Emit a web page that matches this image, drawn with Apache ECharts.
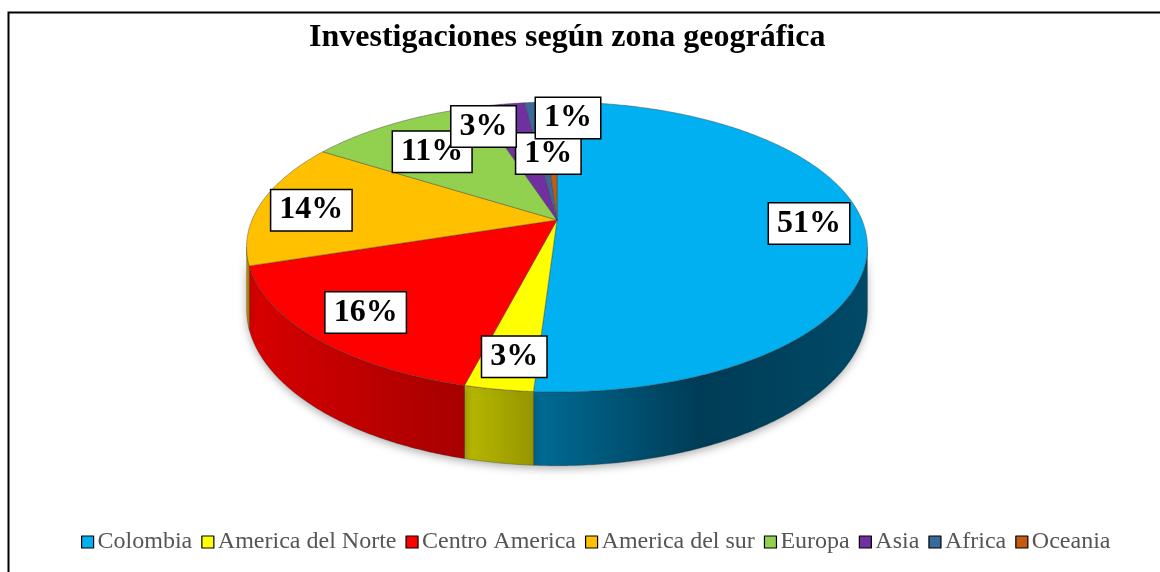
<!DOCTYPE html>
<html>
<head>
<meta charset="utf-8">
<script src="https://cdn.jsdelivr.net/npm/echarts@6/dist/echarts.min.js"></script>
<style>
  html, body { margin: 0; padding: 0; background: #fff; }
  #chart { width: 1160px; height: 572px; }
</style>
</head>
<body>
<div id="chart"></div>
<script>
// datos del grafico
var categories = ['Colombia', 'America del Norte', 'Centro America', 'America del sur', 'Europa', 'Asia', 'Africa', 'Oceania'];
var percents = [51, 3, 16, 14, 11, 3, 1, 1];

// colores (cara superior y pared lateral)
var colors = ['#00B0F0', '#FFFF00', '#FF0000', '#FFC000', '#92D050', '#7030A0', '#3A6A9C', '#C55A11'];
var wallColors = [
  ['#006C96', '#003C56', '#004A68'],
  ['#B8B800', '#969600'],
  ['#D80000', '#A60000'],
  ['#C89600', '#B08300'],
  ['#6E9E3C', '#5A8230'],
  ['#552578', '#451E60'],
  ['#2A5078', '#20405F'],
  ['#943F0A', '#7A3408']
];
// ajuste manual de etiquetas (px) y orden de apilado
var labelNudge = [[7, 0], [2, 7], [-4, 1], [-8, 4], [9, 11], [-27, 2], [31, -5], [-2, 31]];
var labelZ = [1, 1, 1, 1, 1, 3, 3, 2];

// geometria del pastel 3D
var cx = 557, cy = 220, rx = 305, ry = 140, persp = 0.186, depth = 60;
var RAD = Math.PI / 180;

function proj (theta, f, down) {
  var sn = Math.sin(theta), cs = Math.cos(theta);
  var s = 1 / (1 + persp * f * sn);
  return [cx + rx * f * cs * s, cy - ry * f * sn * s + (down || 0) * s];
}

var total = percents.reduce(function (a, b) { return a + b; }, 0);
var sliceData = [];
var acc = 0;
percents.forEach(function (v, i) {
  var a0 = 90 - acc / total * 360;
  acc += v;
  var a1 = 90 - acc / total * 360;
  sliceData.push({ name: categories[i], value: [a0, a1, i, v] });
});

function gradient (stops) {
  return new echarts.graphic.LinearGradient(0, 0, 1, 0, stops.map(function (c, k) {
    return { offset: k / (stops.length - 1), color: c };
  }));
}

function renderSlice (params, api) {
  var a0 = api.value(0), a1 = api.value(1), i = api.value(2), v = api.value(3);
  var children = [];
  var t;

  // pared frontal visible
  var edge = Math.asin(persp) / RAD;
  var lo = Math.max(a1, -180 + edge), hi = Math.min(a0, -edge);
  if (hi > lo) {
    var pts = [];
    for (t = hi; t > lo; t -= 0.5) pts.push(proj(t * RAD, 1, 0));
    pts.push(proj(lo * RAD, 1, 0));
    for (t = lo; t < hi; t += 0.5) pts.push(proj(t * RAD, 1, depth));
    pts.push(proj(hi * RAD, 1, depth));
    children.push({
      type: 'polygon',
      shape: { points: pts },
      style: {
        fill: gradient(wallColors[i]),
        stroke: 'rgba(40,40,40,0.5)',
        lineWidth: 0.6,
        shadowBlur: 8,
        shadowColor: 'rgba(0,0,0,0.3)',
        shadowOffsetY: 3
      },
      z2: 0
    });
  }

  // cara superior
  var top = [proj(0, 0, 0)];
  for (t = a0; t > a1; t -= 0.5) top.push(proj(t * RAD, 1, 0));
  top.push(proj(a1 * RAD, 1, 0));
  children.push({
    type: 'polygon',
    shape: { points: top },
    style: { fill: colors[i], stroke: 'rgba(60,60,60,0.6)', lineWidth: 0.7 },
    z2: 10
  });

  // etiqueta
  var lp = proj((a0 + a1) / 2 * RAD, 0.8, 0);
  children.push({
    type: 'text',
    x: lp[0] + labelNudge[i][0],
    y: lp[1] + labelNudge[i][1],
    style: {
      text: Math.round(v / total * 100) + '%',
      font: 'bold 32px "Liberation Serif"',
      fill: '#000',
      align: 'center',
      verticalAlign: 'middle',
      backgroundColor: '#fff',
      borderColor: '#000',
      borderWidth: 1.5,
      padding: [5, 8, 3, 8]
    },
    z2: 100 + labelZ[i]
  });

  return { type: 'group', children: children };
}

var chart = echarts.init(document.getElementById('chart'));
chart.setOption({
  animation: false,
  color: colors,
  title: {
    text: 'Investigaciones según zona geográfica',
    left: 304,
    top: 17,
    textStyle: { fontFamily: 'Liberation Serif', fontWeight: 'bold', fontSize: 32, color: '#000' }
  },
  legend: {
    data: categories,
    top: 525,
    left: 76,
    icon: 'rect',
    itemWidth: 12,
    itemHeight: 12,
    itemGap: 9,
    itemStyle: { borderColor: '#000', borderWidth: 1.2 },
    textStyle: { fontFamily: 'Liberation Serif', fontSize: 24, color: '#555555', padding: [0, 0, 0, -1] }
  },
  graphic: [{
    type: 'rect',
    silent: true,
    shape: { x: 8.5, y: 12.5, width: 1200, height: 600 },
    style: { fill: 'none', stroke: '#000', lineWidth: 2 }
  }],
  series: [
    {
      // solo para la leyenda
      type: 'pie',
      radius: 0,
      silent: true,
      label: { show: false },
      labelLine: { show: false },
      data: categories.map(function (c, i) { return { name: c, value: percents[i] }; })
    },
    {
      type: 'custom',
      coordinateSystem: 'none',
      renderItem: renderSlice,
      data: sliceData
    }
  ]
});
</script>
</body>
</html>
